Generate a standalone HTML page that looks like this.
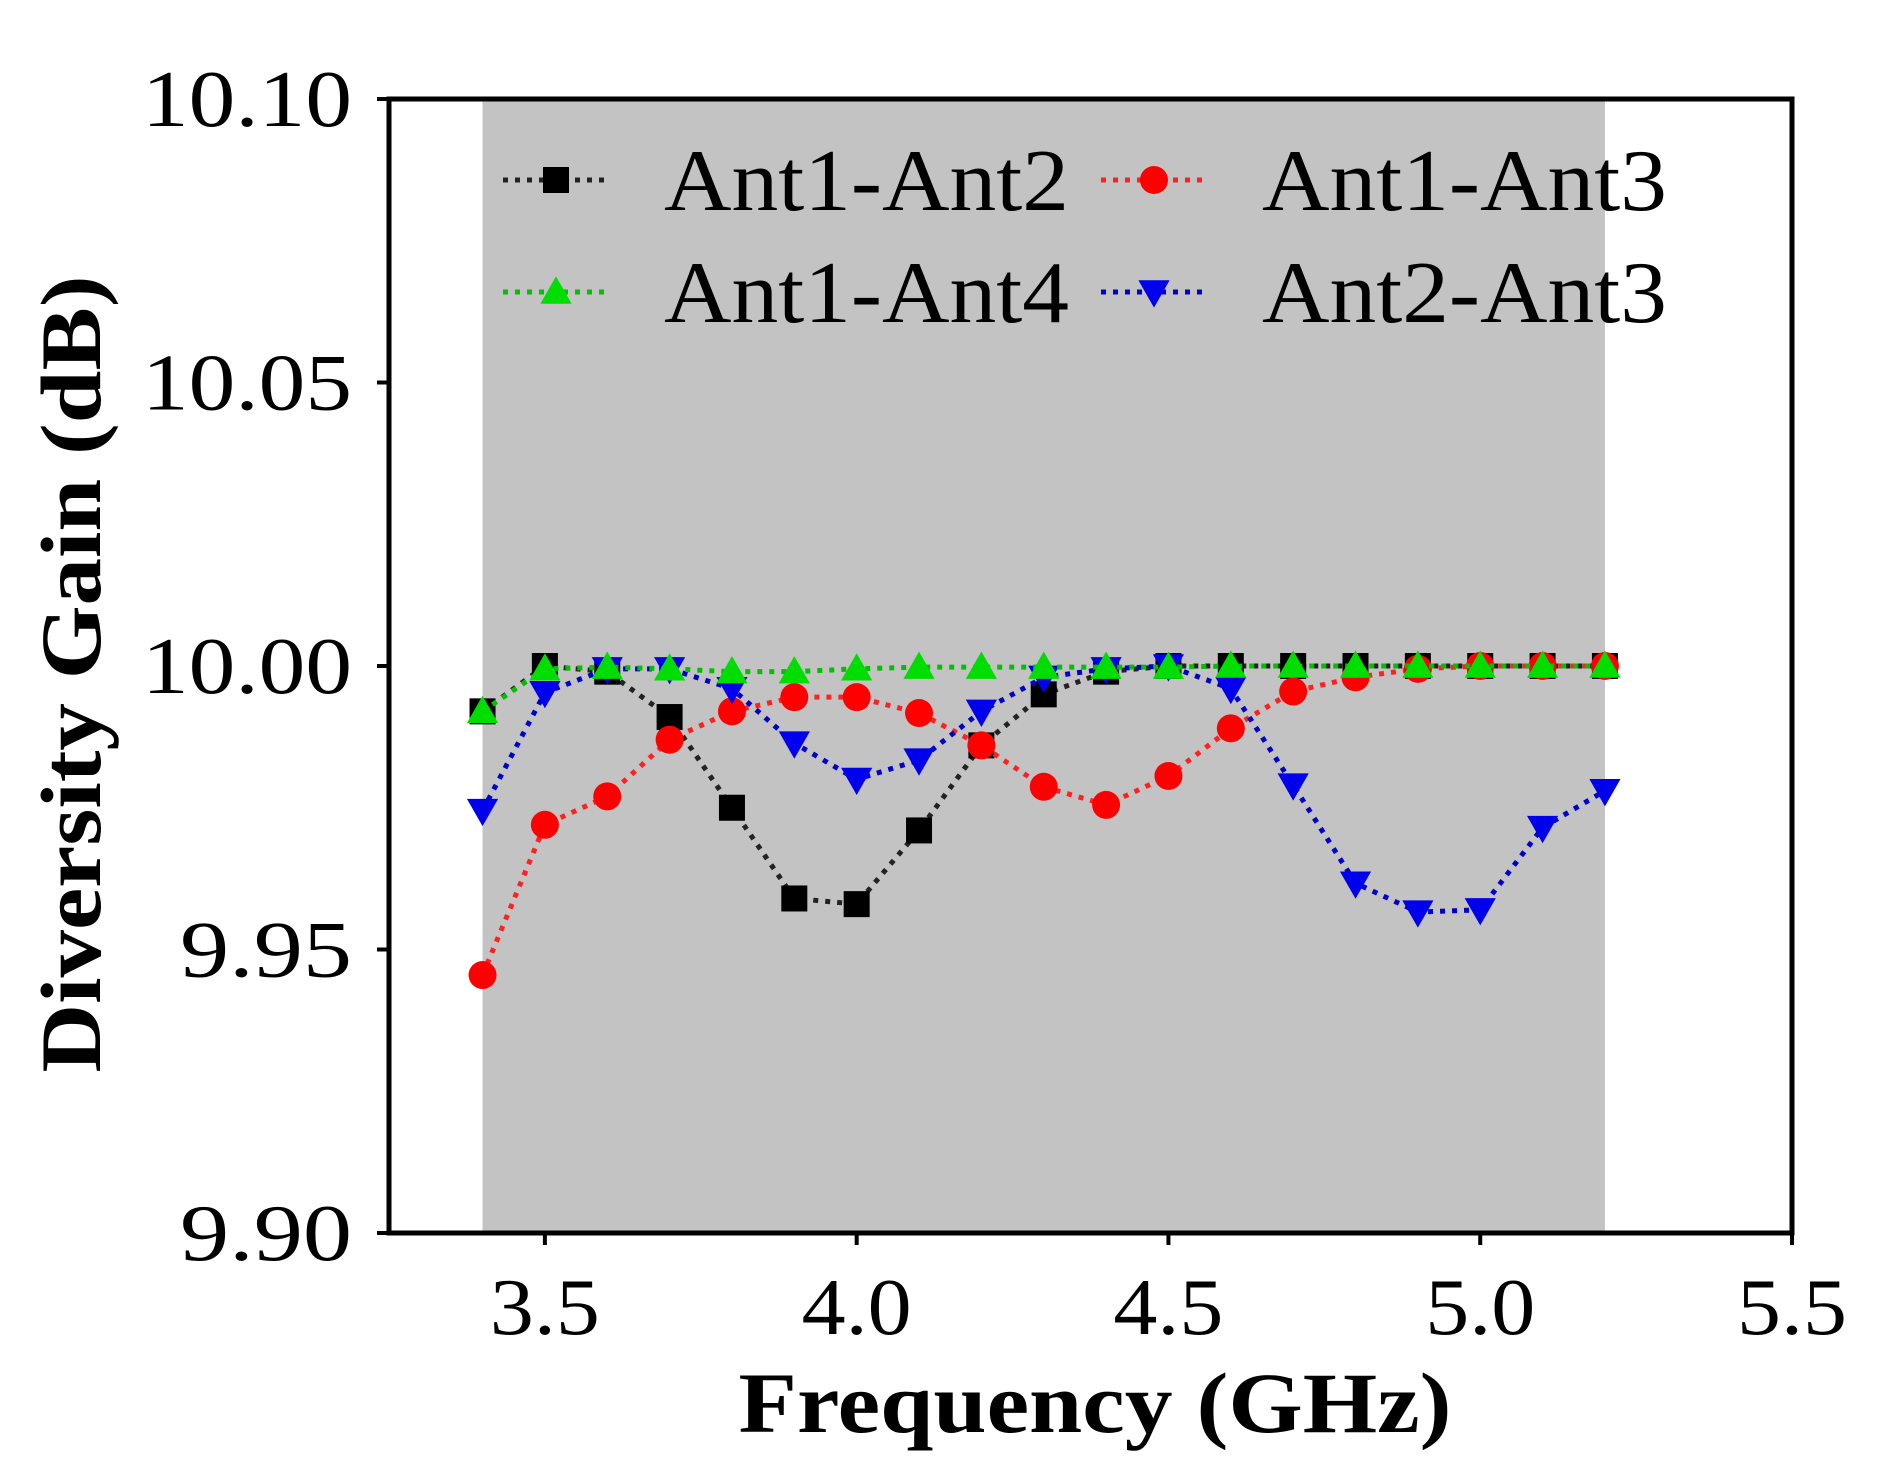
<!DOCTYPE html>
<html><head><meta charset="utf-8"><style>
html,body{margin:0;padding:0;background:#fff;}
svg{display:block;}
text{font-family:"Liberation Serif",serif;fill:#000;}
</style></head><body>
<svg id="chart" width="1877" height="1473" viewBox="0 0 1877 1473">
<g id="bg"></g>
<g id="series"></g>
<g id="axes"></g>
<g id="legend"></g>
</svg>
<script>
const freqs = [3.4,3.5,3.6,3.7,3.8,3.9,4.0,4.1,4.2,4.3,4.4,4.5,4.6,4.7,4.8,4.9,5.0,5.1,5.2];
const ant12 = [9.992,10.0,9.999,9.991,9.975,9.959,9.958,9.971,9.986,9.995,9.999,10.0,10.0,10.0,10.0,10.0,10.0,10.0,10.0];
const ant13 = [9.9455,9.972,9.977,9.987,9.992,9.9945,9.9945,9.9917,9.986,9.9787,9.9755,9.9806,9.989,9.9955,9.998,9.9995,10.0,10.0,10.0];
const ant14 = [9.992,9.9995,9.9998,9.9995,9.999,9.999,9.9995,9.9998,9.9998,9.9998,9.9998,9.9998,10.0,10.0,10.0,10.0,10.0,10.0,10.0];
const ant23 = [9.9745,9.9953,9.9995,9.9995,9.996,9.9864,9.980,9.9834,9.992,9.998,9.9995,10.0,9.996,9.979,9.9617,9.9566,9.957,9.9715,9.978];
const yTicks = [9.90,9.95,10.00,10.05,10.10];
const yTickLabels = ["9.90","9.95","10.00","10.05","10.10"];
const xTicks = [3.5,4.0,4.5,5.0,5.5];
const xTickLabels = ["3.5","4.0","4.5","5.0","5.5"];
const bandRange = [3.4,5.2];
const seriesNames = ["Ant1-Ant2","Ant1-Ant3","Ant1-Ant4","Ant2-Ant3"];

const NS="http://www.w3.org/2000/svg";
const L=389,R=1792,T=99,B=1233;
const xMin=3.25,xMax=5.5,yMin=9.90,yMax=10.10;
function sx(v){return L+(v-xMin)/(xMax-xMin)*(R-L);}
function sy(v){return B-(v-yMin)/(yMax-yMin)*(B-T);}
function mk(tag,attrs,parent){const e=document.createElementNS(NS,tag);for(const k in attrs)e.setAttribute(k,attrs[k]);parent.appendChild(e);return e;}
const bg=document.getElementById('bg'),sg=document.getElementById('series'),ag=document.getElementById('axes'),lg=document.getElementById('legend');

const band=mk('rect',{x:sx(bandRange[0]),y:T,width:sx(bandRange[1])-sx(bandRange[0]),height:B-T,fill:'#c3c3c3'},bg);



function marker(type,cx,cy,color,parent,s){
  let e;
  if(type==='square'){e=mk('rect',{x:cx-s/2,y:cy-s/2,width:s,height:s,fill:color},parent);}
  else if(type==='circle'){e=mk('circle',{cx:cx,cy:cy,r:s/2+1,fill:color},parent);}
  else if(type==='up'){e=mk('polygon',{points:`${cx},${cy-s*0.6} ${cx-s*0.6},${cy+s*0.45} ${cx+s*0.6},${cy+s*0.45}`,fill:color},parent);}
  else {e=mk('polygon',{points:`${cx},${cy+s*0.6} ${cx-s*0.6},${cy-s*0.45} ${cx+s*0.6},${cy-s*0.45}`,fill:color},parent);}
  return e;
}
const defs=[
 {data:ant12,color:'#000000',m:'square',line:'#222'},
 {data:ant13,color:'#ff0000',m:'circle',line:'#ff2020'},
 {data:ant14,color:'#00dd00',m:'up',line:'#00c000'},
 {data:ant23,color:'#0000ee',m:'down',line:'#0000cc'}
];
const order=[0,1,3,2];
order.forEach(i=>{
  const d=defs[i];
  const g=mk('g',{},sg);
  
  
  const pts=freqs.map((f,j)=>sx(f)+','+sy(d.data[j])).join(' ');
  const pl=mk('polyline',{points:pts,fill:'none',stroke:d.line,'stroke-width':5,'stroke-dasharray':'5 7'},g);
  
  
  freqs.forEach((f,j)=>{
    const m=marker(d.m,sx(f),sy(d.data[j]),d.color,g,26);
    
    
  });
});

const frame=mk('rect',{x:L,y:T,width:R-L,height:B-T,fill:'none',stroke:'#000','stroke-width':5},ag);


yTicks.forEach((v,i)=>{
  const tk=mk('line',{x1:L,x2:L-12,y1:sy(v),y2:sy(v),stroke:'#000','stroke-width':4},ag);
  
  
  const t=mk('text',{x:352,y:sy(v)+27,'text-anchor':'end','font-size':80},ag);
  t.textContent=yTickLabels[i];
  t.setAttribute('textLength',yTickLabels[i].length>4?210:172);
  t.setAttribute('lengthAdjust','spacingAndGlyphs');
  
  
});
xTicks.forEach((v,i)=>{
  const tk=mk('line',{x1:sx(v),x2:sx(v),y1:B,y2:B+12,stroke:'#000','stroke-width':4},ag);
  
  
  const t=mk('text',{x:sx(v),y:1334,'text-anchor':'middle','font-size':80},ag);
  t.textContent=xTickLabels[i];
  t.setAttribute('textLength',110);
  t.setAttribute('lengthAdjust','spacingAndGlyphs');
  
  
});
const xt=mk('text',{x:1095,y:1432,'text-anchor':'middle','font-size':86,'font-weight':'bold',textLength:713,lengthAdjust:'spacingAndGlyphs'},ag);
xt.textContent='Frequency (GHz)';


const yt=mk('text',{x:0,y:0,'text-anchor':'middle','font-size':86,'font-weight':'bold',textLength:797,lengthAdjust:'spacingAndGlyphs',transform:'translate(100,674) rotate(-90)'},ag);
yt.textContent='Diversity Gain (dB)';



const legPos=[[503,180],[1101,180],[503,292],[1101,292]];
defs.forEach((d,i)=>{
  const [x0,yc]=legPos[i];
  const g=mk('g',{},lg);
  
  
  mk('line',{x1:x0,x2:x0+105,y1:yc,y2:yc,stroke:d.line,'stroke-width':5,'stroke-dasharray':'5 7'},g);
  marker(d.m,x0+53,yc,d.color,g,26);
  const t=mk('text',{x:x0+161,y:yc+30,'font-size':88,textLength:405,lengthAdjust:'spacingAndGlyphs'},g);
  t.textContent=seriesNames[i];
});
</script>
</body></html>
